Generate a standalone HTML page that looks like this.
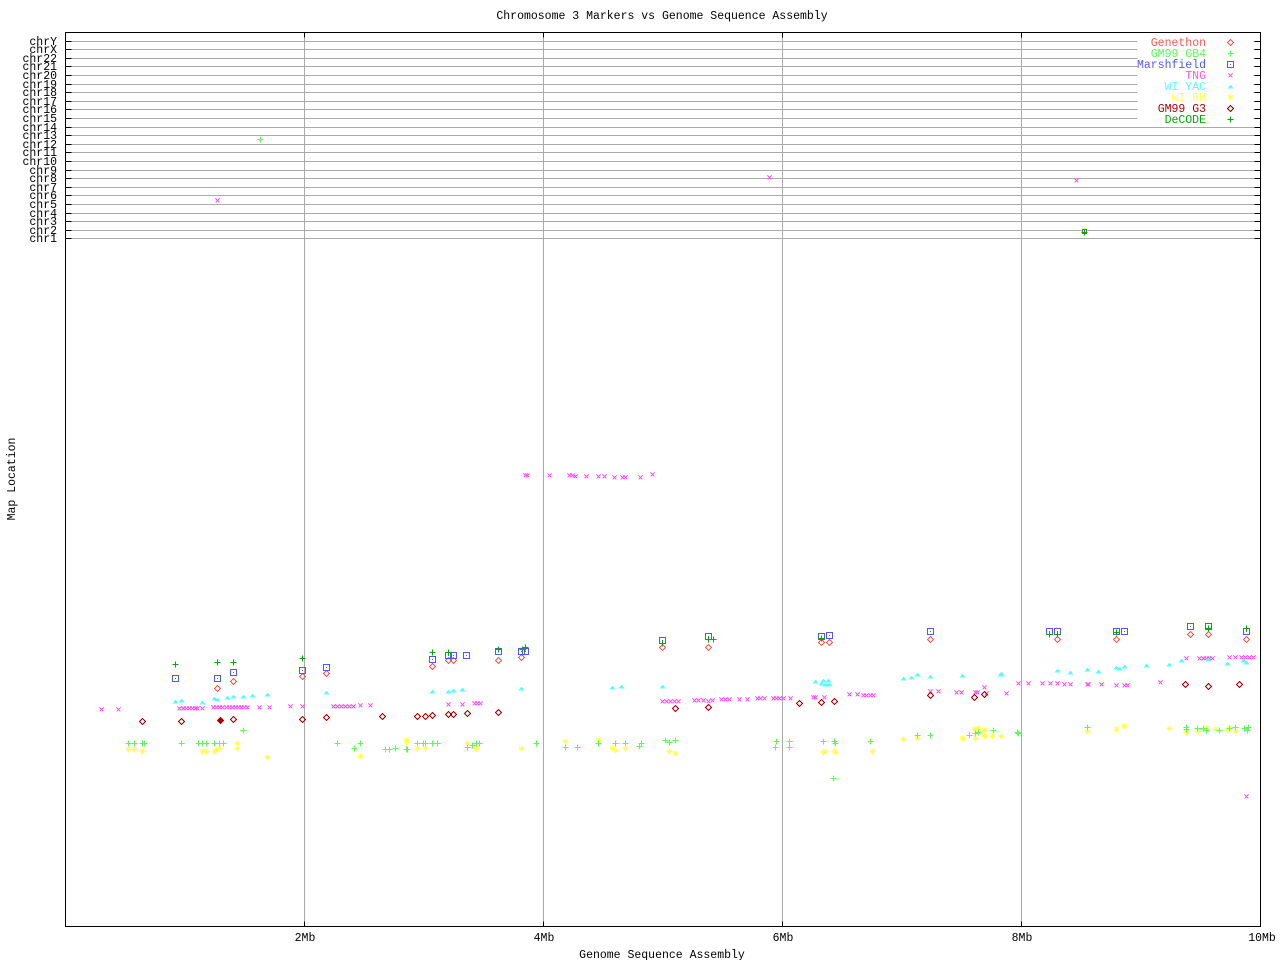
<!DOCTYPE html>
<html>
<head>
<meta charset="utf-8">
<style>
html,body{margin:0;padding:0;background:#fff;}
svg{display:block;}
text{font-family:"Liberation Mono","DejaVu Sans Mono",monospace;font-size:11.5px;}
</style>
</head>
<body>
<svg width="1280" height="960" viewBox="0 0 1280 960" xmlns="http://www.w3.org/2000/svg">
<rect width="1280" height="960" fill="#fff"/>
<text x="662" y="19" text-anchor="middle" fill="#000">Chromosome 3 Markers vs Genome Sequence Assembly</text>
<g transform="translate(.5 .5)" shape-rendering="crispEdges">
<!-- horizontal chr grid lines -->
<path stroke="#aaaaaa" fill="none" d="M65 41H1260M65 49H1260M65 58H1260M65 66H1260M65 75H1260M65 84H1260M65 92H1260M65 101H1260M65 109H1260M65 118H1260M65 127H1260M65 135H1260M65 144H1260M65 152H1260M65 161H1260M65 170H1260M65 178H1260M65 187H1260M65 195H1260M65 204H1260M65 213H1260M65 221H1260M65 230H1260M65 238H1260"/>
<!-- vertical grid lines -->
<path stroke="#aaaaaa" fill="none" d="M304 32V926M543 32V926M782 32V926M1021 32V926"/>
<!-- legend background -->
<rect x="1137" y="36" width="116" height="87" fill="#fff" stroke="none"/>
<!-- frame -->
<rect x="65" y="32" width="1195" height="894" fill="none" stroke="#000"/>
<!-- ticks -->
<path stroke="#000" fill="none" d="M65 41h6M65 49h6M65 58h6M65 66h6M65 75h6M65 84h6M65 92h6M65 101h6M65 109h6M65 118h6M65 127h6M65 135h6M65 144h6M65 152h6M65 161h6M65 170h6M65 178h6M65 187h6M65 195h6M65 204h6M65 213h6M65 221h6M65 230h6M65 238h6
M1254 41h6M1254 49h6M1254 58h6M1254 66h6M1254 75h6M1254 84h6M1254 92h6M1254 101h6M1254 109h6M1254 118h6M1254 127h6M1254 135h6M1254 144h6M1254 152h6M1254 161h6M1254 170h6M1254 178h6M1254 187h6M1254 195h6M1254 204h6M1254 213h6M1254 221h6M1254 230h6M1254 238h6
M304 32v5M543 32v5M782 32v5M1021 32v5M304 921v5M543 921v5M782 921v5M1021 921v5"/>
</g>
<!-- chr labels -->
<g fill="#000" text-anchor="end">
<text x="57" y="45">chrY</text><text x="57" y="53">chrX</text><text x="57" y="62">chr22</text><text x="57" y="70">chr21</text>
<text x="57" y="79">chr20</text><text x="57" y="88">chr19</text><text x="57" y="96">chr18</text><text x="57" y="105">chr17</text>
<text x="57" y="113">chr16</text><text x="57" y="122">chr15</text><text x="57" y="131">chr14</text><text x="57" y="139">chr13</text>
<text x="57" y="148">chr12</text><text x="57" y="156">chr11</text><text x="57" y="165">chr10</text><text x="57" y="174">chr9</text>
<text x="57" y="182">chr8</text><text x="57" y="191">chr7</text><text x="57" y="199">chr6</text><text x="57" y="208">chr5</text>
<text x="57" y="217">chr4</text><text x="57" y="225">chr3</text><text x="57" y="234">chr2</text><text x="57" y="242">chr1</text>
</g>
<!-- x tick labels -->
<g fill="#000" text-anchor="middle">
<text x="305" y="941">2Mb</text><text x="544" y="941">4Mb</text><text x="783" y="941">6Mb</text><text x="1022" y="941">8Mb</text><text x="1262" y="941">10Mb</text>
<text x="662" y="958">Genome Sequence Assembly</text>
</g>
<text transform="translate(15 479) rotate(-90)" text-anchor="middle" fill="#000">Map Location</text>

<g transform="translate(.5 .5)" shape-rendering="crispEdges" fill="none" stroke-width="1">
<!-- WI RH asterisks -->
<path stroke="#ffff55" d="M128 749m-3 0h6m-3-3v6m-2-5l4 4m0-4l-4 4M134 749m-3 0h6m-3-3v6m-2-5l4 4m0-4l-4 4M142 751m-3 0h6m-3-3v6m-2-5l4 4m0-4l-4 4M202 751m-3 0h6m-3-3v6m-2-5l4 4m0-4l-4 4M206 751m-3 0h6m-3-3v6m-2-5l4 4m0-4l-4 4M214 751m-3 0h6m-3-3v6m-2-5l4 4m0-4l-4 4M217 749m-3 0h6m-3-3v6m-2-5l4 4m0-4l-4 4M219 748m-3 0h6m-3-3v6m-2-5l4 4m0-4l-4 4M237 743m-3 0h6m-3-3v6m-2-5l4 4m0-4l-4 4M237 748m-3 0h6m-3-3v6m-2-5l4 4m0-4l-4 4M267 757m-3 0h6m-3-3v6m-2-5l4 4m0-4l-4 4M360 756m-3 0h6m-3-3v6m-2-5l4 4m0-4l-4 4M406 740m-3 0h6m-3-3v6m-2-5l4 4m0-4l-4 4M406 742m-3 0h6m-3-3v6m-2-5l4 4m0-4l-4 4M417 748m-3 0h6m-3-3v6m-2-5l4 4m0-4l-4 4M425 748m-3 0h6m-3-3v6m-2-5l4 4m0-4l-4 4M467 743m-3 0h6m-3-3v6m-2-5l4 4m0-4l-4 4M476 748m-3 0h6m-3-3v6m-2-5l4 4m0-4l-4 4M521 748m-3 0h6m-3-3v6m-2-5l4 4m0-4l-4 4M565 741m-3 0h6m-3-3v6m-2-5l4 4m0-4l-4 4M598 740m-3 0h6m-3-3v6m-2-5l4 4m0-4l-4 4M612 748m-3 0h6m-3-3v6m-2-5l4 4m0-4l-4 4M615 750m-3 0h6m-3-3v6m-2-5l4 4m0-4l-4 4M625 748m-3 0h6m-3-3v6m-2-5l4 4m0-4l-4 4M669 751m-3 0h6m-3-3v6m-2-5l4 4m0-4l-4 4M675 753m-3 0h6m-3-3v6m-2-5l4 4m0-4l-4 4M823 752m-3 0h6m-3-3v6m-2-5l4 4m0-4l-4 4M825 751m-3 0h6m-3-3v6m-2-5l4 4m0-4l-4 4M834 751m-3 0h6m-3-3v6m-2-5l4 4m0-4l-4 4M835 752m-3 0h6m-3-3v6m-2-5l4 4m0-4l-4 4M872 751m-3 0h6m-3-3v6m-2-5l4 4m0-4l-4 4M903 739m-3 0h6m-3-3v6m-2-5l4 4m0-4l-4 4M917 738m-3 0h6m-3-3v6m-2-5l4 4m0-4l-4 4M962 738m-3 0h6m-3-3v6m-2-5l4 4m0-4l-4 4M975 738m-3 0h6m-3-3v6m-2-5l4 4m0-4l-4 4M974 729m-3 0h6m-3-3v6m-2-5l4 4m0-4l-4 4M978 728m-3 0h6m-3-3v6m-2-5l4 4m0-4l-4 4M984 730m-3 0h6m-3-3v6m-2-5l4 4m0-4l-4 4M984 736m-3 0h6m-3-3v6m-2-5l4 4m0-4l-4 4M992 736m-3 0h6m-3-3v6m-2-5l4 4m0-4l-4 4M1001 736m-3 0h6m-3-3v6m-2-5l4 4m0-4l-4 4M1087 731m-3 0h6m-3-3v6m-2-5l4 4m0-4l-4 4M1116 729m-3 0h6m-3-3v6m-2-5l4 4m0-4l-4 4M1124 726m-3 0h6m-3-3v6m-2-5l4 4m0-4l-4 4M1169 728m-3 0h6m-3-3v6m-2-5l4 4m0-4l-4 4M1186 732m-3 0h6m-3-3v6m-2-5l4 4m0-4l-4 4M1198 731m-3 0h6m-3-3v6m-2-5l4 4m0-4l-4 4M1206 728m-3 0h6m-3-3v6m-2-5l4 4m0-4l-4 4M1215 729m-3 0h6m-3-3v6m-2-5l4 4m0-4l-4 4M1227 730m-3 0h6m-3-3v6m-2-5l4 4m0-4l-4 4M1229 727m-3 0h6m-3-3v6m-2-5l4 4m0-4l-4 4M1235 731m-3 0h6m-3-3v6m-2-5l4 4m0-4l-4 4M1084 230m-3 0h6m-3-3v6m-2-5l4 4m0-4l-4 4M1230 97m-3 0h6m-3-3v6m-2-5l4 4m0-4l-4 4"/>
<!-- GM99 GB4 plus -->
<path stroke="#55ff55" d="M260 139m-3 0h6m-3-3v6M243 730m-3 0h6m-3-3v6M128 743m-3 0h6m-3-3v6M134 743m-3 0h6m-3-3v6M142 743m-3 0h6m-3-3v6M144 743m-3 0h6m-3-3v6M181 743m-3 0h6m-3-3v6M198 743m-3 0h6m-3-3v6M202 743m-3 0h6m-3-3v6M206 743m-3 0h6m-3-3v6M214 743m-3 0h6m-3-3v6M219 743m-3 0h6m-3-3v6M223 743m-3 0h6m-3-3v6M337 743m-3 0h6m-3-3v6M360 743m-3 0h6m-3-3v6M354 748m-3 0h6m-3-3v6M385 749m-3 0h6m-3-3v6M389 749m-3 0h6m-3-3v6M395 748m-3 0h6m-3-3v6M406 749m-3 0h6m-3-3v6M407 749m-3 0h6m-3-3v6M417 743m-3 0h6m-3-3v6M423 743m-3 0h6m-3-3v6M425 743m-3 0h6m-3-3v6M432 743m-3 0h6m-3-3v6M437 743m-3 0h6m-3-3v6M467 747m-3 0h6m-3-3v6M472 745m-3 0h6m-3-3v6M476 743m-3 0h6m-3-3v6M479 743m-3 0h6m-3-3v6M536 743m-3 0h6m-3-3v6M565 747m-3 0h6m-3-3v6M577 747m-3 0h6m-3-3v6M598 743m-3 0h6m-3-3v6M615 743m-3 0h6m-3-3v6M625 743m-3 0h6m-3-3v6M639 746m-3 0h6m-3-3v6M641 743m-3 0h6m-3-3v6M665 740m-3 0h6m-3-3v6M669 742m-3 0h6m-3-3v6M675 740m-3 0h6m-3-3v6M776 741m-3 0h6m-3-3v6M775 747m-3 0h6m-3-3v6M789 741m-3 0h6m-3-3v6M789 747m-3 0h6m-3-3v6M823 741m-3 0h6m-3-3v6M834 741m-3 0h6m-3-3v6M835 743m-3 0h6m-3-3v6M870 741m-3 0h6m-3-3v6M833 778m-3 0h6m-3-3v6M917 735m-3 0h6m-3-3v6M930 735m-3 0h6m-3-3v6M969 735m-3 0h6m-3-3v6M975 733m-3 0h6m-3-3v6M978 732m-3 0h6m-3-3v6M993 730m-3 0h6m-3-3v6M1017 732m-3 0h6m-3-3v6M1018 733m-3 0h6m-3-3v6M1087 727m-3 0h6m-3-3v6M1186 727m-3 0h6m-3-3v6M1186 729m-3 0h6m-3-3v6M1197 728m-3 0h6m-3-3v6M1203 728m-3 0h6m-3-3v6M1206 730m-3 0h6m-3-3v6M1219 730m-3 0h6m-3-3v6M1229 728m-3 0h6m-3-3v6M1235 727m-3 0h6m-3-3v6M1244 728m-3 0h6m-3-3v6M1248 727m-3 0h6m-3-3v6M1247 730m-3 0h6m-3-3v6M1230 53m-3 0h6m-3-3v6"/>
<!-- TNG x -->
<path stroke="#ff55ff" d="M217 200m-2-2l4 4m0-4l-4 4M769 177m-2-2l4 4m0-4l-4 4M1076 180m-2-2l4 4m0-4l-4 4M101 709m-2-2l4 4m0-4l-4 4M118 709m-2-2l4 4m0-4l-4 4M179 708m-2-2l4 4m0-4l-4 4M183 708m-2-2l4 4m0-4l-4 4M186 708m-2-2l4 4m0-4l-4 4M189 708m-2-2l4 4m0-4l-4 4M192 708m-2-2l4 4m0-4l-4 4M195 708m-2-2l4 4m0-4l-4 4M197 708m-2-2l4 4m0-4l-4 4M202 708m-2-2l4 4m0-4l-4 4M213 707m-2-2l4 4m0-4l-4 4M216 707m-2-2l4 4m0-4l-4 4M219 707m-2-2l4 4m0-4l-4 4M222 707m-2-2l4 4m0-4l-4 4M226 707m-2-2l4 4m0-4l-4 4M229 707m-2-2l4 4m0-4l-4 4M232 707m-2-2l4 4m0-4l-4 4M235 707m-2-2l4 4m0-4l-4 4M238 707m-2-2l4 4m0-4l-4 4M241 707m-2-2l4 4m0-4l-4 4M244 707m-2-2l4 4m0-4l-4 4M247 707m-2-2l4 4m0-4l-4 4M259 707m-2-2l4 4m0-4l-4 4M269 707m-2-2l4 4m0-4l-4 4M290 706m-2-2l4 4m0-4l-4 4M302 706m-2-2l4 4m0-4l-4 4M333 706m-2-2l4 4m0-4l-4 4M337 706m-2-2l4 4m0-4l-4 4M341 706m-2-2l4 4m0-4l-4 4M345 706m-2-2l4 4m0-4l-4 4M349 706m-2-2l4 4m0-4l-4 4M353 706m-2-2l4 4m0-4l-4 4M360 705m-2-2l4 4m0-4l-4 4M370 705m-2-2l4 4m0-4l-4 4M448 704m-2-2l4 4m0-4l-4 4M462 704m-2-2l4 4m0-4l-4 4M474 703m-2-2l4 4m0-4l-4 4M477 703m-2-2l4 4m0-4l-4 4M480 703m-2-2l4 4m0-4l-4 4M525 475m-2-2l4 4m0-4l-4 4M527 475m-2-2l4 4m0-4l-4 4M549 475m-2-2l4 4m0-4l-4 4M569 475m-2-2l4 4m0-4l-4 4M572 475m-2-2l4 4m0-4l-4 4M575 476m-2-2l4 4m0-4l-4 4M586 476m-2-2l4 4m0-4l-4 4M598 476m-2-2l4 4m0-4l-4 4M604 476m-2-2l4 4m0-4l-4 4M614 477m-2-2l4 4m0-4l-4 4M622 477m-2-2l4 4m0-4l-4 4M625 477m-2-2l4 4m0-4l-4 4M640 477m-2-2l4 4m0-4l-4 4M652 474m-2-2l4 4m0-4l-4 4M662 701m-2-2l4 4m0-4l-4 4M666 701m-2-2l4 4m0-4l-4 4M670 701m-2-2l4 4m0-4l-4 4M674 701m-2-2l4 4m0-4l-4 4M678 701m-2-2l4 4m0-4l-4 4M694 700m-2-2l4 4m0-4l-4 4M698 700m-2-2l4 4m0-4l-4 4M703 700m-2-2l4 4m0-4l-4 4M708 701m-2-2l4 4m0-4l-4 4M712 700m-2-2l4 4m0-4l-4 4M721 699m-2-2l4 4m0-4l-4 4M725 699m-2-2l4 4m0-4l-4 4M729 699m-2-2l4 4m0-4l-4 4M739 699m-2-2l4 4m0-4l-4 4M747 699m-2-2l4 4m0-4l-4 4M757 698m-2-2l4 4m0-4l-4 4M760 698m-2-2l4 4m0-4l-4 4M764 698m-2-2l4 4m0-4l-4 4M773 698m-2-2l4 4m0-4l-4 4M776 698m-2-2l4 4m0-4l-4 4M779 698m-2-2l4 4m0-4l-4 4M783 698m-2-2l4 4m0-4l-4 4M790 698m-2-2l4 4m0-4l-4 4M813 697m-2-2l4 4m0-4l-4 4M815 697m-2-2l4 4m0-4l-4 4M824 697m-2-2l4 4m0-4l-4 4M849 694m-2-2l4 4m0-4l-4 4M857 694m-2-2l4 4m0-4l-4 4M863 695m-2-2l4 4m0-4l-4 4M866 695m-2-2l4 4m0-4l-4 4M870 695m-2-2l4 4m0-4l-4 4M873 695m-2-2l4 4m0-4l-4 4M930 691m-2-2l4 4m0-4l-4 4M938 691m-2-2l4 4m0-4l-4 4M956 692m-2-2l4 4m0-4l-4 4M961 692m-2-2l4 4m0-4l-4 4M975 692m-2-2l4 4m0-4l-4 4M977 692m-2-2l4 4m0-4l-4 4M984 687m-2-2l4 4m0-4l-4 4M986 693m-2-2l4 4m0-4l-4 4M1006 693m-2-2l4 4m0-4l-4 4M1018 683m-2-2l4 4m0-4l-4 4M1028 683m-2-2l4 4m0-4l-4 4M1042 683m-2-2l4 4m0-4l-4 4M1050 683m-2-2l4 4m0-4l-4 4M1057 683m-2-2l4 4m0-4l-4 4M1064 684m-2-2l4 4m0-4l-4 4M1070 684m-2-2l4 4m0-4l-4 4M1087 684m-2-2l4 4m0-4l-4 4M1088 684m-2-2l4 4m0-4l-4 4M1101 684m-2-2l4 4m0-4l-4 4M1116 685m-2-2l4 4m0-4l-4 4M1124 685m-2-2l4 4m0-4l-4 4M1127 685m-2-2l4 4m0-4l-4 4M1160 682m-2-2l4 4m0-4l-4 4M1186 658m-2-2l4 4m0-4l-4 4M1199 658m-2-2l4 4m0-4l-4 4M1203 658m-2-2l4 4m0-4l-4 4M1206 658m-2-2l4 4m0-4l-4 4M1209 658m-2-2l4 4m0-4l-4 4M1212 658m-2-2l4 4m0-4l-4 4M1229 657m-2-2l4 4m0-4l-4 4M1235 657m-2-2l4 4m0-4l-4 4M1241 657m-2-2l4 4m0-4l-4 4M1245 657m-2-2l4 4m0-4l-4 4M1249 657m-2-2l4 4m0-4l-4 4M1253 657m-2-2l4 4m0-4l-4 4M1246 796m-2-2l4 4m0-4l-4 4M1230 75m-2-2l4 4m0-4l-4 4"/>
<!-- WI YAC triangles -->
<path stroke="none" fill="#55ffff" d="M175 701m-3 2h6l-3-4zM181 700m-3 2h6l-3-4zM202 702m-3 2h6l-3-4zM214 698m-3 2h6l-3-4zM217 699m-3 2h6l-3-4zM227 697m-3 2h6l-3-4zM233 696m-3 2h6l-3-4zM243 696m-3 2h6l-3-4zM252 695m-3 2h6l-3-4zM267 694m-3 2h6l-3-4zM326 692m-3 2h6l-3-4zM432 691m-3 2h6l-3-4zM448 691m-3 2h6l-3-4zM453 690m-3 2h6l-3-4zM462 689m-3 2h6l-3-4zM521 688m-3 2h6l-3-4zM612 687m-3 2h6l-3-4zM621 686m-3 2h6l-3-4zM662 686m-3 2h6l-3-4zM815 681m-3 2h6l-3-4zM821 683m-3 2h6l-3-4zM823 680m-3 2h6l-3-4zM825 684m-3 2h6l-3-4zM828 680m-3 2h6l-3-4zM829 684m-3 2h6l-3-4zM903 678m-3 2h6l-3-4zM911 677m-3 2h6l-3-4zM917 674m-3 2h6l-3-4zM930 676m-3 2h6l-3-4zM962 675m-3 2h6l-3-4zM1000 674m-3 2h6l-3-4zM1001 673m-3 2h6l-3-4zM1057 670m-3 2h6l-3-4zM1070 672m-3 2h6l-3-4zM1087 669m-3 2h6l-3-4zM1098 671m-3 2h6l-3-4zM1116 667m-3 2h6l-3-4zM1119 668m-3 2h6l-3-4zM1124 666m-3 2h6l-3-4zM1146 665m-3 2h6l-3-4zM1169 664m-3 2h6l-3-4zM1181 660m-3 2h6l-3-4zM1208 659m-3 2h6l-3-4zM1227 663m-3 2h6l-3-4zM1243 660m-3 2h6l-3-4zM1246 662m-3 2h6l-3-4zM1230 86m-3 2h6l-3-4z"/>
<!-- Genethon diamonds -->
<path stroke="#ff5555" d="M217 688m0-3l3 3-3 3-3-3zM233 681m0-3l3 3-3 3-3-3zM302 676m0-3l3 3-3 3-3-3zM326 673m0-3l3 3-3 3-3-3zM432 666m0-3l3 3-3 3-3-3zM448 660m0-3l3 3-3 3-3-3zM453 660m0-3l3 3-3 3-3-3zM498 660m0-3l3 3-3 3-3-3zM521 657m0-3l3 3-3 3-3-3zM662 647m0-3l3 3-3 3-3-3zM708 647m0-3l3 3-3 3-3-3zM821 642m0-3l3 3-3 3-3-3zM829 642m0-3l3 3-3 3-3-3zM930 639m0-3l3 3-3 3-3-3zM1057 639m0-3l3 3-3 3-3-3zM1116 639m0-3l3 3-3 3-3-3zM1190 634m0-3l3 3-3 3-3-3zM1208 634m0-3l3 3-3 3-3-3zM1246 639m0-3l3 3-3 3-3-3zM1230 42m0-3l3 3-3 3-3-3z"/>
<!-- GM99 G3 diamonds -->
<path stroke="#aa0000" d="M142 721m0-3l3 3-3 3-3-3zM181 721m0-3l3 3-3 3-3-3zM233 719m0-3l3 3-3 3-3-3zM302 719m0-3l3 3-3 3-3-3zM326 717m0-3l3 3-3 3-3-3zM382 716m0-3l3 3-3 3-3-3zM417 716m0-3l3 3-3 3-3-3zM425 716m0-3l3 3-3 3-3-3zM432 715m0-3l3 3-3 3-3-3zM448 714m0-3l3 3-3 3-3-3zM453 714m0-3l3 3-3 3-3-3zM467 713m0-3l3 3-3 3-3-3zM498 712m0-3l3 3-3 3-3-3zM675 708m0-3l3 3-3 3-3-3zM708 707m0-3l3 3-3 3-3-3zM799 703m0-3l3 3-3 3-3-3zM821 702m0-3l3 3-3 3-3-3zM834 701m0-3l3 3-3 3-3-3zM930 695m0-3l3 3-3 3-3-3zM974 697m0-3l3 3-3 3-3-3zM984 694m0-3l3 3-3 3-3-3zM1185 684m0-3l3 3-3 3-3-3zM1208 686m0-3l3 3-3 3-3-3zM1239 684m0-3l3 3-3 3-3-3zM1230 108m0-3l3 3-3 3-3-3z"/>
<path stroke="#aa0000" fill="#aa0000" d="M220 720m0-3l3 3-3 3-3-3z"/>
<!-- Marshfield squares -->
<path stroke="#5555ff" stroke-linecap="square" d="M175 678m-3-3h6v6h-6zm3 3h.01M217 678m-3-3h6v6h-6zm3 3h.01M233 672m-3-3h6v6h-6zm3 3h.01M302 670m-3-3h6v6h-6zm3 3h.01M326 667m-3-3h6v6h-6zm3 3h.01M432 659m-3-3h6v6h-6zm3 3h.01M448 655m-3-3h6v6h-6zm3 3h.01M453 655m-3-3h6v6h-6zm3 3h.01M466 655m-3-3h6v6h-6zm3 3h.01M498 651m-3-3h6v6h-6zm3 3h.01M521 651m-3-3h6v6h-6zm3 3h.01M525 651m-3-3h6v6h-6zm3 3h.01M662 640m-3-3h6v6h-6zm3 3h.01M708 636m-3-3h6v6h-6zm3 3h.01M821 636m-3-3h6v6h-6zm3 3h.01M829 635m-3-3h6v6h-6zm3 3h.01M930 631m-3-3h6v6h-6zm3 3h.01M1049 631m-3-3h6v6h-6zm3 3h.01M1057 631m-3-3h6v6h-6zm3 3h.01M1116 631m-3-3h6v6h-6zm3 3h.01M1124 631m-3-3h6v6h-6zm3 3h.01M1190 626m-3-3h6v6h-6zm3 3h.01M1208 626m-3-3h6v6h-6zm3 3h.01M1246 631m-3-3h6v6h-6zm3 3h.01M1084 231m-2-2h4v4h-4zM1230 64m-3-3h6v6h-6zm3 3h.01"/>
<!-- DeCODE plus -->
<path stroke="#00aa00" d="M175 664m-3 0h6m-3-3v6M217 662m-3 0h6m-3-3v6M233 662m-3 0h6m-3-3v6M302 658m-3 0h6m-3-3v6M432 652m-3 0h6m-3-3v6M448 652m-3 0h6m-3-3v6M498 649m-3 0h6m-3-3v6M522 649m-3 0h6m-3-3v6M525 647m-3 0h6m-3-3v6M662 643m-3 0h6m-3-3v6M708 639m-3 0h6m-3-3v6M713 639m-3 0h6m-3-3v6M821 638m-3 0h6m-3-3v6M1049 634m-3 0h6m-3-3v6M1057 634m-3 0h6m-3-3v6M1116 632m-3 0h6m-3-3v6M1208 628m-3 0h6m-3-3v6M1246 628m-3 0h6m-3-3v6M1084 232m-3 0h6m-3-3v6M1230 119m-3 0h6m-3-3v6"/>
</g>
<!-- legend text -->
<g text-anchor="end">
<text x="1206" y="46" fill="#ff5555">Genethon</text>
<text x="1206" y="57" fill="#55ff55">GM99 GB4</text>
<text x="1206" y="68" fill="#5555ff">Marshfield</text>
<text x="1206" y="79" fill="#ff55ff">TNG</text>
<text x="1206" y="90" fill="#55ffff">WI YAC</text>
<text x="1206" y="101" fill="#ffff55">WI RH</text>
<text x="1206" y="112" fill="#aa0000">GM99 G3</text>
<text x="1206" y="123" fill="#00aa00">DeCODE</text>
</g>
</svg>
</body>
</html>
